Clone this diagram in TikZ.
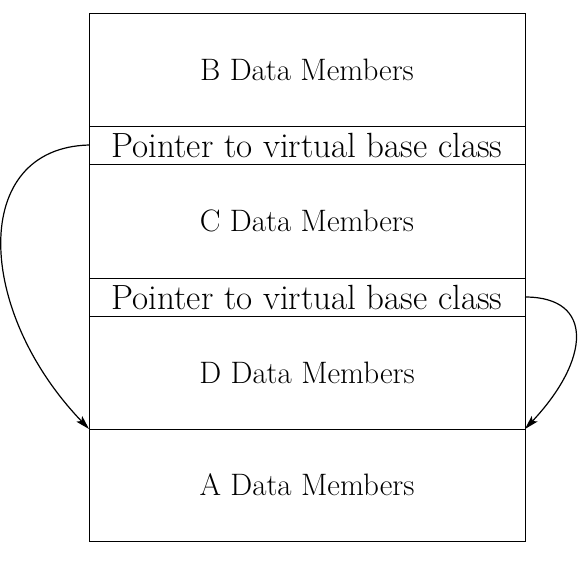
\documentclass[tikz,border=0pt]{standalone}
\usetikzlibrary{arrows.meta}
\begin{document}
\begin{tikzpicture}[x=1pt,y=-1pt,
  cell/.style={draw, line width=1pt, minimum width=436pt, inner sep=0pt, outer sep=0pt,
    font=\fontsize{31}{35}\selectfont},
  ptr/.style={cell, minimum height=38pt, font=\fontsize{35}{38}\selectfont},
  link/.style={line width=1.2pt, -{Stealth[length=14pt,width=8pt,inset=3pt]}}]
\useasboundingbox (0,0) rectangle (584,560);
\node[cell, minimum height=113pt] (B) at (307,69.5) {B Data Members};
\node[ptr] (P1) at (307,145) {Pointer to virtual base class};
\node[cell, minimum height=114pt] (C) at (307,221) {C Data Members};
\node[ptr] (P2) at (307,297) {Pointer to virtual base class};
\node[cell, minimum height=113pt] (D) at (307,372.5) {D Data Members};
\node[cell, minimum height=112pt] (A) at (307,485) {A Data Members};
\draw[link] (P1.west) .. controls (-30,148) and (-25,310) .. (A.north west);
\draw[link] (P2.east) .. controls (595,297) and (590,360) .. (A.north east);
\end{tikzpicture}
\end{document}
